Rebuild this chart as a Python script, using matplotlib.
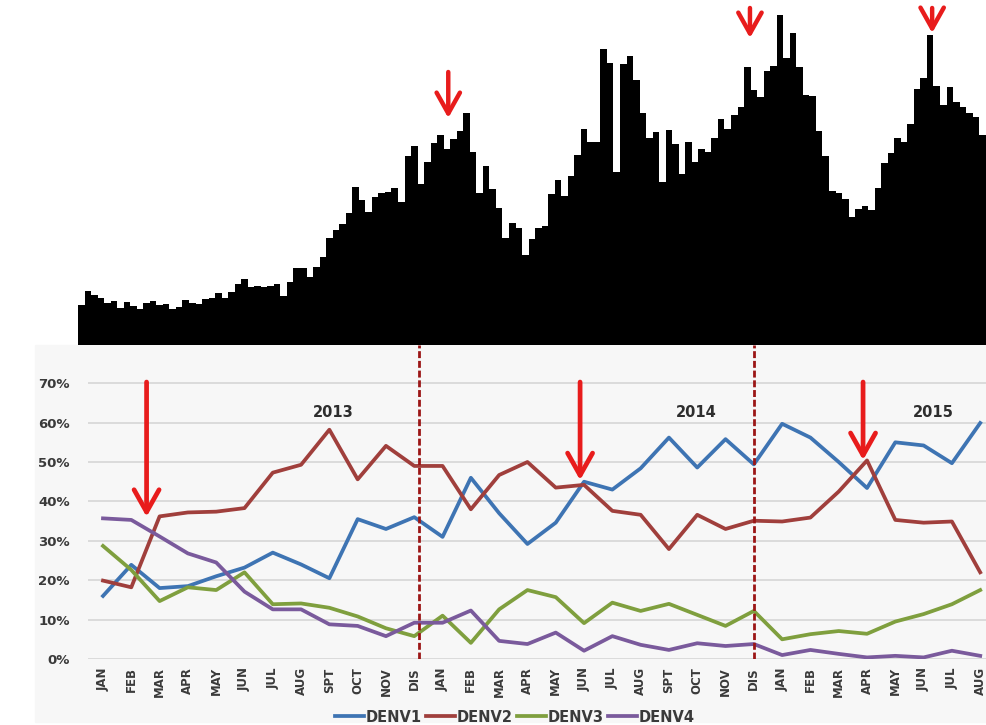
import matplotlib.pyplot as plt
import numpy as np
from matplotlib.patches import Rectangle

# weekly case counts (top panel, relative bar heights)
weekly_cases = [
    40, 54, 50, 47, 42, 44, 37, 43, 39, 36,
    42, 44, 40, 41, 36, 38, 45, 42, 41, 46,
    47, 52, 47, 53, 61, 66, 58, 59, 58, 59,
    61, 49, 63, 77, 77, 68, 78, 88, 107, 115,
    121, 132, 158, 145, 133, 148, 152, 153, 157, 143,
    189, 199, 161, 183, 202, 210, 196, 206, 214, 232,
    193, 152, 179, 156, 137, 107, 122, 117, 90, 106,
    117, 119, 151, 165, 149, 169, 190, 216, 203, 203,
    296, 282, 173, 281, 289, 265, 232, 207, 213, 163,
    215, 201, 171, 203, 183, 196, 193, 207, 226, 216,
    230, 238, 278, 255, 248, 274, 279, 330, 287, 312,
    278, 250, 249, 214, 189, 154, 152, 146, 128, 136,
    139, 135, 157, 182, 192, 207, 203, 221, 256, 267,
    310, 259, 240, 258, 243, 238, 232, 228, 210, 246,
]

months = ['JAN', 'FEB', 'MAR', 'APR', 'MAY', 'JUN',
          'JUL', 'AUG', 'SPT', 'OCT', 'NOV', 'DIS']
month_labels = months + months + months[:8]

# serotype proportions (%)
denv1 = [16.0, 23.9, 18.0, 18.5, 21.0, 23.2, 27.0, 24.0, 20.5, 35.5, 33.0, 36.0,
         31.0, 46.0, 37.0, 29.2, 34.6, 45.0, 43.0, 48.4, 56.2, 48.6, 55.8, 49.4,
         59.7, 56.2, 50.0, 43.4, 55.0, 54.2, 49.7, 59.9]
denv2 = [19.9, 18.2, 36.2, 37.2, 37.4, 38.3, 47.3, 49.3, 58.2, 45.6, 54.1, 49.0,
         49.0, 38.0, 46.7, 50.0, 43.5, 44.2, 37.6, 36.6, 27.9, 36.6, 33.0, 35.1,
         34.9, 35.9, 42.5, 50.4, 35.3, 34.6, 34.9, 22.0]
denv3 = [28.7, 22.6, 14.7, 18.2, 17.5, 22.0, 13.9, 14.1, 13.0, 10.8, 7.8, 5.8,
         11.0, 4.1, 12.6, 17.5, 15.7, 9.1, 14.3, 12.2, 14.0, 11.2, 8.4, 12.2,
         5.0, 6.3, 7.1, 6.4, 9.5, 11.4, 13.9, 17.5]
denv4 = [35.7, 35.3, 31.1, 26.8, 24.5, 17.1, 12.6, 12.6, 8.8, 8.4, 5.8, 9.2,
         9.2, 12.3, 4.6, 3.8, 6.7, 2.1, 5.8, 3.6, 2.3, 4.0, 3.3, 3.8,
         1.0, 2.3, 1.3, 0.4, 0.8, 0.4, 2.1, 0.8]
series_names = ['DENV1', 'DENV2', 'DENV3', 'DENV4']
series_colors = ['#3e74b3', '#a03f3c', '#7f9f3e', '#7a5a9c']

years = ['2013', '2014', '2015']
year_pos = [8.13, 20.95, 29.33]
year_dividers = [11.15, 23.0]

red = '#e81c1c'
txt = '#3a3a3a'

fig = plt.figure(figsize=(9.87, 7.25), dpi=100)
fig.patches.append(Rectangle((35 / 987, 3 / 725), 952 / 987, 377 / 725,
                             transform=fig.transFigure, color='#f7f7f7', zorder=-5))

# --- top: weekly cases
ax1 = fig.add_axes([78 / 987, 1 - 345 / 725, 909 / 987, 345 / 725])
edges = np.arange(len(weekly_cases) + 1)
ax1.stairs(weekly_cases, edges, fill=True, color='black', baseline=0)
ax1.set_xlim(0, 139.2)
ax1.set_ylim(0, 345)
ax1.axis('off')

for x, y0, y1 in [(56.7, 273, 227), (102.9, 337, 307), (130.8, 337, 312)]:
    ax1.annotate('', xy=(x, y1), xytext=(x, y0),
                 arrowprops=dict(arrowstyle='->,head_length=0.75,head_width=0.42',
                                 color=red, lw=3.2, mutation_scale=20,
                                 shrinkA=0, shrinkB=0))

# --- bottom: serotype proportions
ax2 = fig.add_axes([88 / 987, 1 - 659 / 725, 899 / 987, 314 / 725])
ax2.set_facecolor('none')
x = np.arange(len(month_labels))
lines = []
for vals, name, col in zip([denv1, denv2, denv3, denv4], series_names, series_colors):
    ln, = ax2.plot(x, vals, color=col, lw=2.7, label=name, zorder=3)
    lines.append(ln)

ax2.set_xlim(-0.53, 31.24)
ax2.set_ylim(0, 79.7)
ax2.set_yticks(range(0, 71, 10))
ax2.set_yticklabels([f'{v}%' for v in range(0, 71, 10)])
ax2.set_xticks(x)
ax2.set_xticklabels(month_labels, rotation=90)
ax2.grid(axis='y', color='#d6d6d6', lw=1.2, zorder=1)
ax2.tick_params(length=0)
ax2.tick_params(axis='y', pad=13)
ax2.tick_params(axis='x', pad=6)
for lab in ax2.get_yticklabels():
    lab.set_fontweight('bold')
    lab.set_fontsize(9.5)
    lab.set_color(txt)
for lab in ax2.get_xticklabels():
    lab.set_fontweight('bold')
    lab.set_fontsize(8.5)
    lab.set_color(txt)
for s in ax2.spines.values():
    s.set_visible(False)

for xd in year_dividers:
    ax2.axvline(xd, color='#9b1616', lw=2, ls=(0, (2.5, 1)), zorder=4)

for yr, xp in zip(years, year_pos):
    ax2.text(xp, 62.5, yr, ha='center', va='center', fontsize=10.5,
             fontweight='bold', color='#2e2e2e')

for xa, tip in [(1.54, 36.1), (16.86, 45.4), (26.86, 50.5)]:
    ax2.annotate('', xy=(xa, tip), xytext=(xa, 70.3),
                 arrowprops=dict(arrowstyle='->,head_length=0.8,head_width=0.45',
                                 color=red, lw=3.4, mutation_scale=20,
                                 shrinkA=0, shrinkB=0), zorder=5)

leg = fig.legend(handles=lines, loc='center', bbox_to_anchor=(515 / 987, 8 / 725),
                 ncol=4, frameon=False, handlelength=2.0, handletextpad=0.1,
                 columnspacing=0.3, prop={'weight': 'bold', 'size': 10.5})
for t in leg.get_texts():
    t.set_color(txt)

fig.savefig('out.png', dpi=100)
